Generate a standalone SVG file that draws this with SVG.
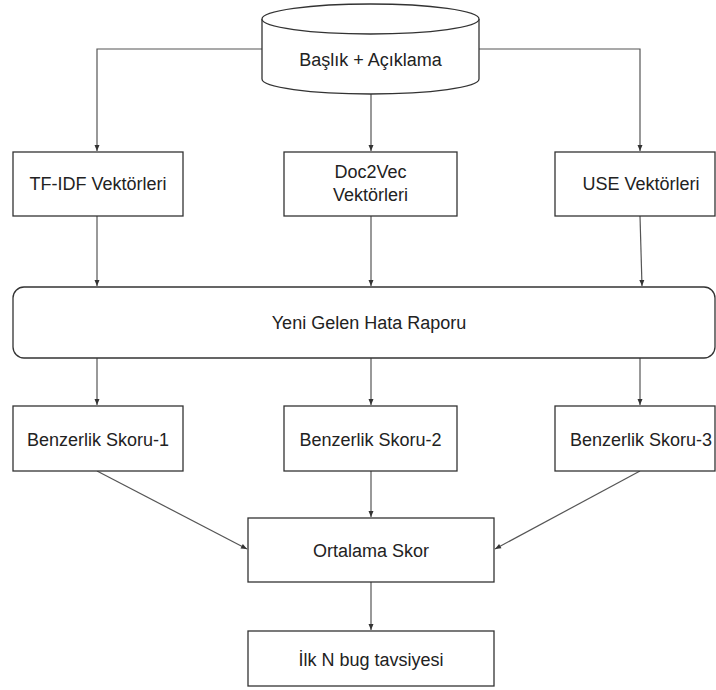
<svg xmlns="http://www.w3.org/2000/svg" width="716" height="690" viewBox="0 0 716 690">
<style>
.box{fill:#fff;stroke:#333;stroke-width:1.3}
.t{font-family:"Liberation Sans",Arial,sans-serif;font-size:18px;fill:#222;text-anchor:middle;dominant-baseline:central}
.c{fill:none;stroke:#555;stroke-width:1.2}
</style>
<defs>
<marker id="ah" markerUnits="userSpaceOnUse" markerWidth="8" markerHeight="8" viewBox="0 0 8 8" refX="7" refY="4" orient="auto">
<path d="M1,1.5 L7,4 L1,6.5 Z" fill="#333"/>
</marker>
</defs>
<rect width="716" height="690" fill="#fff"/>
<g id="connectors">
<path class="c" d="M262,49 H97 V151" marker-end="url(#ah)"/>
<path class="c" d="M479,49 H640 V151" marker-end="url(#ah)"/>
<path class="c" d="M371,94 V151" marker-end="url(#ah)"/>
<path class="c" d="M97,216 V286" marker-end="url(#ah)"/>
<path class="c" d="M371,216 V286" marker-end="url(#ah)"/>
<path class="c" d="M640,216 L642,286" marker-end="url(#ah)"/>
<path class="c" d="M97,358 V405" marker-end="url(#ah)"/>
<path class="c" d="M371,358 V405" marker-end="url(#ah)"/>
<path class="c" d="M640,358 V405" marker-end="url(#ah)"/>
<path class="c" d="M97,471 L247,549" marker-end="url(#ah)"/>
<path class="c" d="M371,471 V517" marker-end="url(#ah)"/>
<path class="c" d="M640,471 L495,549" marker-end="url(#ah)"/>
<path class="c" d="M371,582 V630" marker-end="url(#ah)"/>
</g>
<g id="n-db">
<path class="box" d="M262,19 V79 A108.5,15 0 0 0 479,79 V19"/>
<ellipse class="box" cx="370.5" cy="19" rx="108.5" ry="15"/>
<text class="t" x="370.5" y="60">Başlık + Açıklama</text>
</g>
<g id="n-tfidf">
<rect class="box" x="13" y="152" width="170" height="64"/>
<text class="t" x="98" y="184">TF-IDF Vektörleri</text>
</g>
<g id="n-doc2vec">
<rect class="box" x="284" y="152" width="173" height="64"/>
<text class="t" x="370.5" y="172">Doc2Vec</text>
<text class="t" x="370.5" y="195">Vektörleri</text>
</g>
<g id="n-use">
<rect class="box" x="555" y="152" width="160" height="64"/>
<text class="t" x="641" y="184">USE Vektörleri</text>
</g>
<g id="n-yeni">
<rect class="box" x="13" y="287" width="702" height="71" rx="11" ry="11"/>
<text class="t" x="369" y="323">Yeni Gelen Hata Raporu</text>
</g>
<g id="n-b1">
<rect class="box" x="13" y="406" width="170" height="65"/>
<text class="t" x="98" y="440">Benzerlik Skoru-1</text>
</g>
<g id="n-b2">
<rect class="box" x="284" y="406" width="173" height="65"/>
<text class="t" x="370.5" y="440">Benzerlik Skoru-2</text>
</g>
<g id="n-b3">
<rect class="box" x="555" y="406" width="160" height="65"/>
<text class="t" x="641" y="440">Benzerlik Skoru-3</text>
</g>
<g id="n-ort">
<rect class="box" x="248" y="518" width="246" height="64"/>
<text class="t" x="371" y="551">Ortalama Skor</text>
</g>
<g id="n-ilk">
<rect class="box" x="248" y="631" width="246" height="55"/>
<text class="t" x="371" y="660">İlk N bug tavsiyesi</text>
</g>
</svg>
